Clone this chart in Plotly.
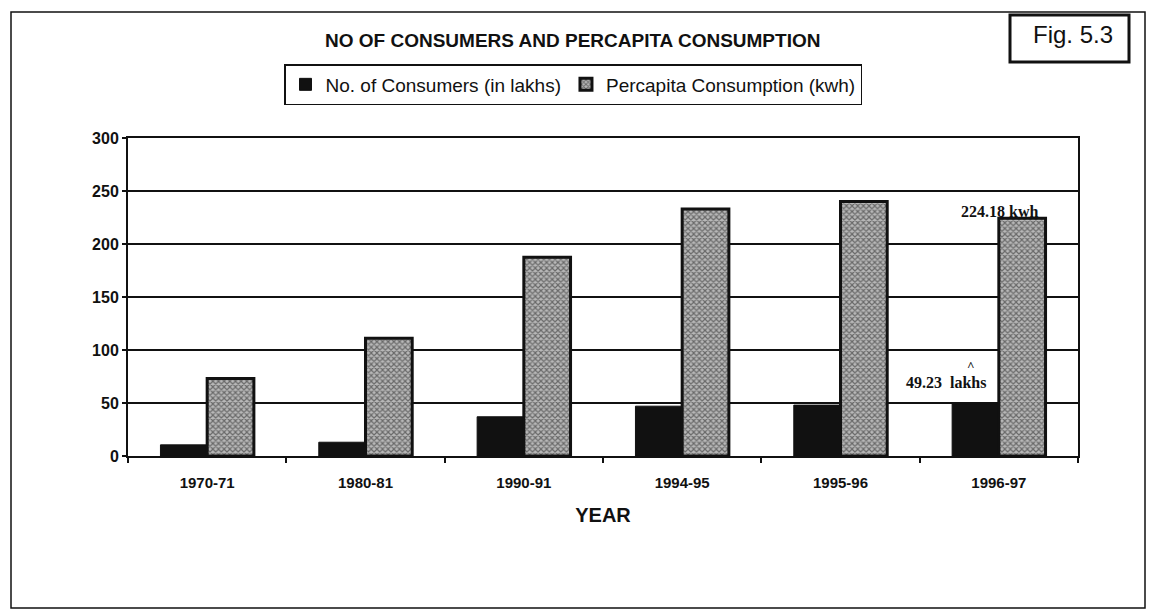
import plotly.graph_objects as go

years = ["1970-71", "1980-81", "1990-91", "1994-95", "1995-96", "1996-97"]
consumers = [10.5, 13, 37, 47, 48, 49.23]
percapita = [73, 111, 187.5, 233, 240, 224.18]
y_ticks = [0, 50, 100, 150, 200, 250, 300]

# screenshot geometry (page body has an 8px margin)
SW, SH, OFF = 1154, 611, 8
L, R, T, B = 128, 1078, 138, 456

def px(x):
    return (x - L) / (R - L)

def py(y):
    return (B - y) / (B - T)

SANS = "Liberation Sans, Arial, sans-serif"
SERIF = "Liberation Serif, Times New Roman, serif"
INK = "#111111"

fig = go.Figure()
fig.add_trace(go.Bar(
    x=years, y=consumers, name="No. of Consumers (in lakhs)",
    marker=dict(color=INK, line=dict(color=INK, width=1)),
))
fig.add_trace(go.Bar(
    x=years, y=percapita, name="Percapita Consumption (kwh)",
    marker=dict(color="#ffffff", line=dict(color=INK, width=3),
                pattern=dict(shape="x", fgcolor="#1a1a1a", bgcolor="#b8b8b8",
                             size=4, solidity=0.5)),
))

fig.update_layout(
    width=SW - OFF, height=SH - OFF,
    margin=dict(l=L - OFF, r=SW - R, t=T - OFF, b=SH - B, autoexpand=False),
    paper_bgcolor="white", plot_bgcolor="white",
    barmode="group", bargap=0.41, bargroupgap=0,
    font=dict(family=SANS, color=INK),
    showlegend=True,
    legend=dict(orientation="h", x=px(573), xanchor="center", y=py(64), yanchor="top",
                bordercolor=INK, borderwidth=1.5, bgcolor="white",
                font=dict(size=19, family=SANS, color=INK), itemwidth=30,
                tracegroupgap=0),
    xaxis=dict(showline=True, linecolor=INK, linewidth=2, mirror=True,
               ticks="outside", tickson="boundaries", ticklen=5, tickwidth=1.5,
               tickcolor=INK, ticklabelstandoff=12,
               tickfont=dict(size=15, family=SANS, weight="bold", color=INK),
               title=dict(text="YEAR", font=dict(size=20, family=SANS, weight="bold", color=INK),
                          standoff=18)),
    yaxis=dict(range=[0, 300], tickvals=y_ticks, showline=True, linecolor=INK,
               linewidth=2, mirror=True, showgrid=True, gridcolor=INK, gridwidth=1.5,
               ticks="outside", ticklen=4, tickwidth=1.5, tickcolor=INK,
               tickfont=dict(size=16, family=SANS, weight="bold", color=INK),
               zeroline=False),
)

# outer frame
fig.add_shape(type="rect", xref="paper", yref="paper",
              x0=px(11), x1=px(1145), y0=py(608), y1=py(12),
              line=dict(color=INK, width=1.5), layer="below")
# Fig box
fig.add_shape(type="rect", xref="paper", yref="paper",
              x0=px(1010), x1=px(1129), y0=py(62), y1=py(15),
              line=dict(color=INK, width=3))
fig.add_annotation(text="Fig. 5.3", xref="paper", yref="paper", x=px(1073), y=py(34),
                   xanchor="center", yanchor="middle", showarrow=False,
                   font=dict(size=24, family=SANS, color=INK))
# title
fig.add_annotation(text="NO OF CONSUMERS AND PERCAPITA CONSUMPTION", xref="paper", yref="paper",
                   x=px(572), y=py(40), xanchor="center", yanchor="middle", showarrow=False,
                   font=dict(size=19, family=SANS, weight="bold", color=INK))
# value labels
fig.add_annotation(text=f"{percapita[5]:.2f} kwh", x=years[5], y=percapita[5], yshift=7, xshift=1,
                   xanchor="center", yanchor="middle", showarrow=False,
                   font=dict(size=16, family=SERIF, weight="bold", color=INK))
fig.add_annotation(text=f"{consumers[5]:.2f}  lakhs", x=years[5], y=consumers[5], yshift=21, xshift=-53,
                   xanchor="center", yanchor="middle", showarrow=False,
                   font=dict(size=16, family=SERIF, weight="bold", color=INK))
fig.add_annotation(text="^", x=years[5], y=consumers[5], yshift=38, xshift=-28,
                   xanchor="center", yanchor="middle", showarrow=False,
                   font=dict(size=13, family=SERIF, weight="bold", color=INK))

fig.write_html("out.html")
